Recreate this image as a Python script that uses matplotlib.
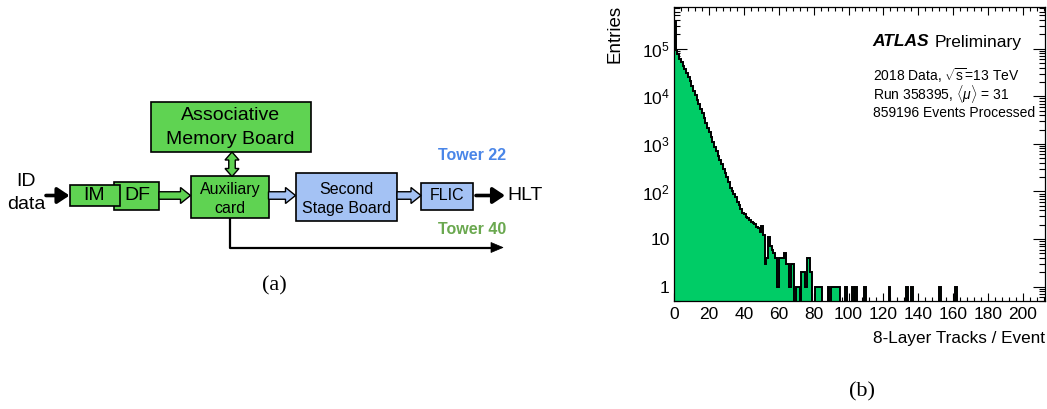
import numpy as np
import matplotlib
matplotlib.use('Agg')
import matplotlib.pyplot as plt
from matplotlib.patches import Rectangle, Polygon
from matplotlib.ticker import FixedLocator, FixedFormatter, NullFormatter

plt.rcParams['font.family'] = ['Liberation Sans', 'DejaVu Sans']
plt.rcParams['mathtext.fontset'] = 'custom'
plt.rcParams['mathtext.rm'] = 'Liberation Sans'
plt.rcParams['mathtext.it'] = 'Liberation Sans:italic'
plt.rcParams['mathtext.bf'] = 'Liberation Sans:bold'

# ---------------- data ----------------
main_counts = [370000, 93000, 78000, 62000, 52000, 44000, 37000, 31000, 25500, 20500,
               16500, 13200, 10500, 8400, 6800, 5500, 4400, 3500, 2800, 2200,
               1750, 1400, 1100, 860, 700, 560, 450, 370, 300, 245,
               200, 160, 120, 100, 88, 75, 60, 52, 42, 36,
               33, 29, 28, 25, 23, 22, 21, 18, 17, 14,
               19, 12, 3, 4, 11, 7, 6, 5, 4, 1,
               4, 4, 4, 5, 3, 3, 1, 3, 3, 0,
               1, 1, 0, 2, 2, 1, 4, 4, 2, 0,
               0, 1, 1, 1, 1]
tail_bins = [88, 90, 91, 92, 93, 94, 98, 102, 104, 109, 123, 133, 136, 152, 161]
tail_counts = [1] * len(tail_bins)
n_bins = 213

x_major = [0, 20, 40, 60, 80, 100, 120, 140, 160, 180, 200]
x_major_labels = ['0', '20', '40', '60', '80', '100', '120', '140', '160', '180', '200']
y_major = [1, 10, 100, 1000, 10000, 100000]
y_major_labels = ['1', '10', r'$10^{2}$', r'$10^{3}$', r'$10^{4}$', r'$10^{5}$']

counts = np.zeros(n_bins)
counts[:len(main_counts)] = main_counts
for b, c in zip(tail_bins, tail_counts):
    counts[b] = c
edges = np.arange(n_bins + 1)

W, H = 1047, 409
fig = plt.figure(figsize=(W / 100, H / 100), dpi=100)

# ---------------- left: block diagram (pixel coordinates) ----------------
dg = fig.add_axes([0, 0, 1, 1])
dg.set_xlim(0, W)
dg.set_ylim(H, 0)
dg.axis('off')

GREEN = '#5fd352'
BLUE = '#a4c2f4'


def box(x0, y0, x1, y1, fc, z=2):
    dg.add_patch(Rectangle((x0, y0), x1 - x0, y1 - y0, fc=fc, ec='k', lw=1.2, zorder=z))


def harrow(x0, x1, y, fc, bw=7.5, hw=16, hl=10):
    pts = [(x0, y - bw / 2), (x1 - hl, y - bw / 2), (x1 - hl, y - hw / 2), (x1, y),
           (x1 - hl, y + hw / 2), (x1 - hl, y + bw / 2), (x0, y + bw / 2)]
    dg.add_patch(Polygon(pts, closed=True, fc=fc, ec='k', lw=1.0, zorder=3))


def vdarrow(cx, y0, y1, fc, bw=6.5, hw=14, hl=8):
    pts = [(cx, y0), (cx + hw / 2, y0 + hl), (cx + bw / 2, y0 + hl), (cx + bw / 2, y1 - hl),
           (cx + hw / 2, y1 - hl), (cx, y1), (cx - hw / 2, y1 - hl), (cx - bw / 2, y1 - hl),
           (cx - bw / 2, y0 + hl), (cx - hw / 2, y0 + hl)]
    dg.add_patch(Polygon(pts, closed=True, fc=fc, ec='k', lw=1.0, zorder=3))


def blackarrow(x0, x1, y):
    dg.annotate('', xy=(x1, y), xytext=(x0, y),
                arrowprops=dict(arrowstyle='-|>,head_length=0.45,head_width=0.3',
                                lw=2.6, color='k', shrinkA=0, shrinkB=0, mutation_scale=16))


yc = 195.5
box(150.5, 102, 311, 152, GREEN)
dg.text(230.7, 116, 'Associative', ha='center', va='center', fontsize=14)
dg.text(230.7, 140, 'Memory Board', ha='center', va='center', fontsize=14)
vdarrow(232, 152, 176.5, GREEN)

box(114, 181.5, 159, 209.5, GREEN)
dg.text(137, yc, 'DF', ha='center', va='center', fontsize=14, zorder=5)
box(70, 185, 120, 205.5, GREEN, z=4)
dg.text(94, yc, 'IM', ha='center', va='center', fontsize=14, zorder=5)

dg.text(26.5, 181.5, 'ID', ha='center', va='center', fontsize=14)
dg.text(26.5, 204.5, 'data', ha='center', va='center', fontsize=14)
blackarrow(46, 69.5, yc)

harrow(159, 190.5, yc, GREEN)
box(191, 176, 268.5, 218, GREEN)
dg.text(229.8, 189.5, 'Auxiliary', ha='center', va='center', fontsize=11.5)
dg.text(229.8, 208.5, 'card', ha='center', va='center', fontsize=11.5)

harrow(268.5, 295.5, yc, BLUE)
box(295.5, 172.5, 397, 221, BLUE)
dg.text(346, 189, 'Second', ha='center', va='center', fontsize=11.5)
dg.text(346, 208.5, 'Stage Board', ha='center', va='center', fontsize=11.5)

harrow(397, 421, yc, BLUE)
box(421, 182.5, 472.5, 209.5, BLUE)
dg.text(446.7, yc, 'FLIC', ha='center', va='center', fontsize=11.5)

blackarrow(476, 505, yc)
dg.text(507, yc + 0.5, 'HLT', ha='left', va='center', fontsize=14)

dg.text(437.5, 155, 'Tower 22', ha='left', va='center', fontsize=11.5,
        fontweight='bold', color='#4a86e8')
dg.text(437.5, 229, 'Tower 40', ha='left', va='center', fontsize=11.5,
        fontweight='bold', color='#6aa84f')
dg.plot([229.5, 229.5, 492], [218, 247.5, 247.5], color='k', lw=1.6, solid_capstyle='butt')
dg.add_patch(Polygon([(491, 242.5), (503, 247.5), (491, 252.5)], closed=True, fc='k', ec='k', lw=0.5))

dg.text(274, 286, '(a)', ha='center', va='center', fontsize=16, family='Liberation Serif')
dg.text(862, 392, '(b)', ha='center', va='center', fontsize=16, family='Liberation Serif')

# ---------------- right: histogram ----------------
ax = fig.add_axes([674 / W, 1 - 301 / H, (1045 - 674) / W, (301 - 7) / H])
plot_counts = np.where(counts > 0, counts, 1e-3)
ax.stairs(plot_counts, edges, fill=True, color='#00cc66', baseline=1e-3, zorder=2)
ax.stairs(plot_counts, edges, color='k', lw=1.4, baseline=1e-3, zorder=3)
ax.set_yscale('log')
ax.set_xlim(0, 212.6)
ax.set_ylim(0.5, 7.5e5)

ax.xaxis.set_major_locator(FixedLocator(x_major))
ax.xaxis.set_major_formatter(FixedFormatter(x_major_labels))
ax.xaxis.set_minor_locator(FixedLocator(np.arange(0, 213, 4)))
ax.yaxis.set_major_locator(FixedLocator(y_major))
ax.yaxis.set_major_formatter(FixedFormatter(y_major_labels))
ax.yaxis.set_minor_locator(matplotlib.ticker.LogLocator(base=10, subs=np.arange(2, 10), numticks=20))
ax.yaxis.set_minor_formatter(NullFormatter())

ax.tick_params(which='both', direction='in', top=True, right=True, width=0.8, labelsize=12.5)
ax.tick_params(axis='x', which='major', length=6, pad=4)
ax.tick_params(axis='x', which='minor', length=3)
ax.tick_params(axis='y', which='major', length=9, pad=3)
ax.tick_params(axis='y', which='minor', length=4.5)
for s in ax.spines.values():
    s.set_linewidth(0.9)

dg.text(615, 5, 'Entries', rotation=90, ha='center', va='top', fontsize=13.5)
dg.text(873, 338, '8-Layer Tracks / Event', ha='left', va='center', fontsize=12.3)

# labels inside the plot frame are drawn on the histogram axes (pixel coordinates)
ax.text(872.7, 42, 'ATLAS', transform=dg.transData, ha='left', va='center', fontsize=12.5,
        fontweight='bold', style='italic', zorder=10)
ax.text(935, 42, 'Preliminary', transform=dg.transData, ha='left', va='center', fontsize=12.5, zorder=10)
ax.text(872.7, 75.5, r'2018 Data, $\sqrt{\mathrm{s}}$=13 TeV', transform=dg.transData,
        ha='left', va='center', fontsize=10, zorder=10)
ax.text(872.7, 94.5, r'Run 358395, $\langle\mu\rangle$ = 31', transform=dg.transData,
        ha='left', va='center', fontsize=10, zorder=10)
ax.text(872.7, 113, '859196 Events Processed', transform=dg.transData,
        ha='left', va='center', fontsize=10, zorder=10)

fig.savefig('out.png', dpi=100)
